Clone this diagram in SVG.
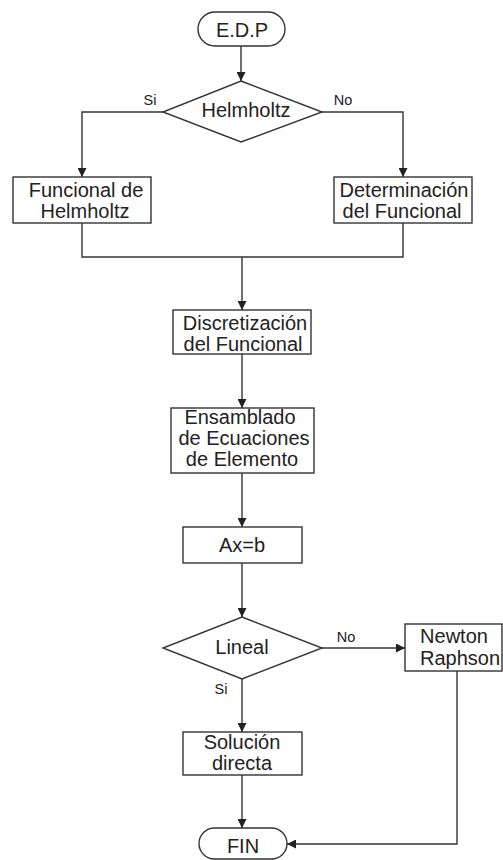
<svg xmlns="http://www.w3.org/2000/svg" width="503" height="860" viewBox="0 0 503 860">
<style>
.s{fill:#fff;stroke:#333;stroke-width:1.4}
.c{fill:none;stroke:#333;stroke-width:1.4}
.t{font-family:"Liberation Sans",Arial,sans-serif;font-size:20px;fill:#222;text-anchor:middle}
.l{font-family:"Liberation Sans",Arial,sans-serif;font-size:14.5px;fill:#222;text-anchor:middle}
</style>
<defs>
<marker id="a" viewBox="0 0 10 10" refX="10" refY="5" markerWidth="9" markerHeight="9" markerUnits="userSpaceOnUse" orient="auto">
<path d="M0,0 L10,5 L0,10 z" fill="#222"/>
</marker>
</defs>
<g id="connectors">
<line class="c" x1="241" y1="46" x2="241" y2="81" marker-end="url(#a)"/>
<polyline class="c" points="163,112 82,112 82,177" marker-end="url(#a)"/>
<polyline class="c" points="322,112 403,112 403,177" marker-end="url(#a)"/>
<polyline class="c" points="82,223 82,257 403,257 403,223"/>
<line class="c" x1="242" y1="257" x2="242" y2="310" marker-end="url(#a)"/>
<line class="c" x1="242" y1="354" x2="242" y2="408" marker-end="url(#a)"/>
<line class="c" x1="242" y1="473" x2="242" y2="527" marker-end="url(#a)"/>
<line class="c" x1="242" y1="563" x2="242" y2="617" marker-end="url(#a)"/>
<line class="c" x1="322" y1="648" x2="405" y2="648" marker-end="url(#a)"/>
<line class="c" x1="242" y1="679" x2="242" y2="732" marker-end="url(#a)"/>
<line class="c" x1="242" y1="775" x2="242" y2="828" marker-end="url(#a)"/>
<polyline class="c" points="457,671 457,844 287,844" marker-end="url(#a)"/>
<text class="l" x="150" y="105">Si</text>
<text class="l" x="343" y="105">No</text>
<text class="l" x="346" y="642">No</text>
<text class="l" x="221" y="694">Si</text>
</g>
<g id="edp">
<rect class="s" x="198" y="12" width="87" height="34" rx="17"/>
<text class="t" x="242" y="37">E.D.P</text>
</g>
<g id="helmholtz">
<polygon class="s" points="241,81 322,112 241,142 163,112"/>
<text class="t" x="246" y="117">Helmholtz</text>
</g>
<g id="funcional">
<rect class="s" x="13" y="177" width="138" height="46"/>
<text class="t" x="86" y="197">Funcional de</text>
<text class="t" x="85" y="218">Helmholtz</text>
</g>
<g id="determinacion">
<rect class="s" x="334" y="177" width="138" height="46"/>
<text class="t" x="404" y="197">Determinación</text>
<text class="t" x="402" y="218">del Funcional</text>
</g>
<g id="discretizacion">
<rect class="s" x="173" y="310" width="138" height="44"/>
<text class="t" x="245" y="330">Discretización</text>
<text class="t" x="243" y="351">del Funcional</text>
</g>
<g id="ensamblado">
<rect class="s" x="171" y="408" width="143" height="65"/>
<text class="t" x="240" y="424">Ensamblado</text>
<text class="t" x="244" y="445">de Ecuaciones</text>
<text class="t" x="242" y="466">de Elemento</text>
</g>
<g id="axb">
<rect class="s" x="183" y="527" width="119" height="36"/>
<text class="t" x="242" y="552">Ax=b</text>
</g>
<g id="lineal">
<polygon class="s" points="242,617 322,648 242,679 163,648"/>
<text class="t" x="242" y="654">Lineal</text>
</g>
<g id="newton">
<rect class="s" x="405" y="624" width="97" height="47"/>
<text class="t" x="454" y="643">Newton</text>
<text class="t" x="460" y="665">Raphson</text>
</g>
<g id="solucion">
<rect class="s" x="183" y="732" width="119" height="43"/>
<text class="t" x="242" y="749">Solución</text>
<text class="t" x="242" y="770">directa</text>
</g>
<g id="fin">
<rect class="s" x="199" y="828" width="88" height="31" rx="15.5"/>
<text class="t" x="243" y="853">FIN</text>
</g>
</svg>
